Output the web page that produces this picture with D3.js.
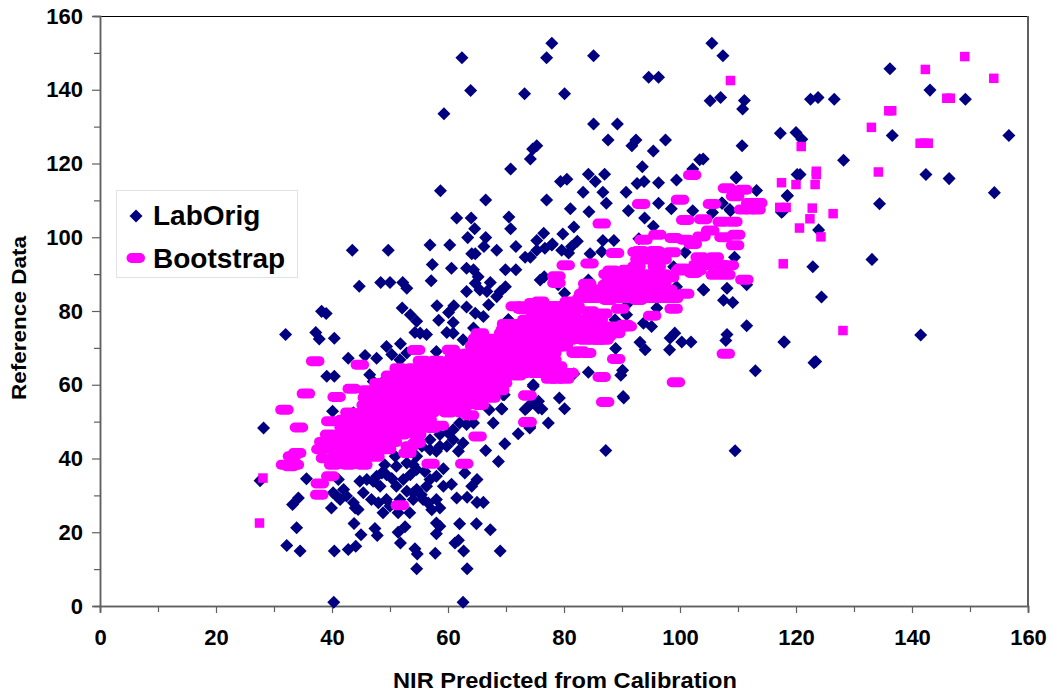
<!DOCTYPE html>
<html>
<head>
<meta charset="utf-8">
<script src="https://cdn.jsdelivr.net/npm/d3@7"></script>
<style>
body { margin: 0; background: #fff; }
text { font-family: "Liberation Sans", Arial, sans-serif; font-weight: bold; fill: #000; }
</style>
</head>
<body>
<div id="chart"></div>
<script>
const xTicks = [0, 20, 40, 60, 80, 100, 120, 140, 160]
const yTicks = [0, 20, 40, 60, 80, 100, 120, 140, 160]
const minorTicks = [10, 30, 50, 70, 90, 110, 130, 150]

// values: [predicted, reference]
const labOrig = [
[77.9,152.6],[62.4,148.7],[77,148.7],[85.1,149.2],[63.9,139.8],[73.2,138.9],[80.1,138.9],[94.6,143.4],[96.3,143.4],[59.3,133.5],
[85.1,130.7],[89.2,130.7],[87.6,126.4],[92.4,126.4],[91.7,124.8],[97.5,126.4],[95.4,123.4],[75.3,124.8],[74.6,123.9],[74.2,121.2],
[70.8,118.5],[93.5,119.1],[102.2,118.5],[103.4,121],[84.2,117.1],[87,117.1],[85.4,115.1],[80.5,115.7],[79.4,115.1],[92.6,114.6],
[93.8,115.1],[96.3,114.8],[99.4,115.5],[58.7,112.6],[66.5,110.1],[77,110.1],[83.3,112.2],[86.7,112.2],[90.7,112.2],[87.3,109.2],
[96.3,109.2],[81.1,107.7],[84.3,106.9],[91.1,107.2],[98.5,107.7],[102.2,107.2],[61.5,105.2],[64,105.2],[70.5,105.5],[93.9,105.2],
[70.8,102.3],[64.6,102.3],[81.7,102.8],[79.8,100.9],[95.4,103],[63.4,99.9],[66.5,99.9],[76.5,101.1],[75.3,99.1],[43.5,96.5],
[49.7,96.5],[56.9,97.9],[60.3,97.9],[66.2,97.5],[68.4,96.5],[71.7,97.5],[77.9,97.9],[76.7,97],[75.3,96.5],[82.3,98.9],
[81.3,97.5],[79.6,96.5],[80.8,95.7],[86.7,99.1],[88.6,99.1],[92.9,99.6],[64.1,95.5],[64.7,95.5],[84.5,95.5],[86.5,96.1],
[73.3,94.6],[74.2,94.6],[57.3,92.6],[60.6,91.6],[63.2,91.6],[64.4,91.2],[65.2,89.3],[69.9,91.2],[71.7,91.2],[57.1,88.2],
[75.9,88.4],[76.6,89.3],[84.2,88.4],[44.7,86.7],[48.4,87.7],[50,87.7],[52.2,87.7],[52.9,86.2],[67.3,87.7],[64.7,87.5],
[63.2,85.3],[65.5,85.7],[66.7,85.3],[69.9,86.6],[69,85.3],[68.4,83.9],[80.1,84.8],[99.4,86.6],[98.9,92],[78,98.2],
[38.2,79.9],[39,79.3],[32,73.6],[37.2,74.2],[37.8,72.4],[40.4,72.6],[42.8,67.2],[45.7,67.9],[47.7,67.2],[49.4,70.4],
[50.3,68.2],[51.8,71.1],[52.1,80.8],[53.5,79],[54.6,77.2],[55.2,74],[54.3,74.2],[56.3,73.6],[58.1,81.4],[58.4,77.5],
[61,81.4],[60.1,79.6],[60.9,76.9],[59.8,74.2],[60.9,74],[63.2,81.1],[64.7,79.4],[66.1,78.5],[67,81.7],[70.4,77.6],
[64.4,75.4],[62.6,72.2],[58,69],[52.9,68.6],[51.7,66.8],[46.5,62.7],[47.1,60.9],[39.1,62.3],[40.4,62.3],[49.4,61.8],
[40.1,52.8],[28.2,48.3],[43.7,52.4],[67.1,53.2],[69.2,53.5],[69.5,57.3],[67.8,49.6],[64.4,49.6],[72.1,46.7],[69.8,44],
[74.1,48.3],[73.6,53.7],[74.7,59.6],[75.6,53.7],[66.5,42.2],[68.7,39.2],[62,49.6],[60.9,47.8],[58.6,46.5],[56.9,45.1],
[60.9,45.1],[62.6,44.2],[61.8,42],[58,42],[55.5,43.3],[54.6,40.6],[50.9,40.6],[49.1,38.3],[48.6,36.1],[52.9,38.8],
[54.6,37],[53.5,35.6],[52.3,34.3],[50.3,34.6],[46,34.3],[47.1,33.8],[48.3,32.5],[51.1,32.5],[54.6,31.6],[56.9,34.3],
[59.2,37.2],[62.9,36.1],[65,34.3],[64.1,32.5],[59.2,32.5],[60.6,33],[61.5,29.3],[63.3,29.5],[65,28.1],[66.1,28.1],
[58.6,26.6],[57.2,26.1],[55.7,28.9],[54,30.7],[58,28.9],[53.4,25.3],[51.4,25.3],[48.8,25.3],[48,28],[49.4,28.9],
[44.5,26.2],[43.7,28],[45.4,30.7],[42,31.6],[40.2,30.7],[41.4,28.9],[39.9,26.6],[41.1,34.3],[35.6,34.5],[27.6,34],
[34.2,29.3],[33.2,27.5],[33.9,21.2],[43.8,22.4],[45,19.3],[47.4,21],[47.8,19.1],[52.6,21.5],[51.4,20],[58,22.5],
[58.6,21.6],[58,19.6],[62,22.3],[64.9,22.3],[67.3,20.7],[51.8,17.1],[61.8,17.8],[61.2,17.1],[32.2,16.4],[34.5,14.9],
[40.4,14.9],[42.8,15.3],[44.1,16.2],[54.3,15.5],[54.7,14.1],[57.8,14.3],[62.7,14.9],[69,14.9],[54.6,10.1],[63.3,10.1],
[40.3,1],[62.6,1],[79,87.1],[89.7,85.8],[100.9,95.9],[104,85.8],[108.1,86.2],[107.5,82.9],[109.1,82.3],[111.5,87.1],
[109.4,94.6],[108.6,107.5],[107.2,109.3],[109.7,116.3],[113.2,112.7],[118.5,111.3],[120.2,117],[117.7,107],[91.1,82.2],[96,80.8],
[90.8,79],[88.8,77.6],[74.7,79.4],[93.7,76.7],[95.1,75.8],[111.5,76],[99.1,74],[98.3,72.7],[100.3,71.6],[101.9,71.6],
[98.2,69.5],[93.1,71.5],[94,69.5],[108.1,73.6],[107.9,72],[117.9,71.6],[88.9,69.8],[113,63.8],[79.6,63.6],[81.7,63],
[84.2,63.4],[90.1,63.9],[89.8,62.6],[74.7,60],[69.7,57.3],[79.2,56.4],[90.3,56.4],[73.3,53.3],[74.4,55],[76.2,53.4],
[80.1,53.5],[69.3,53.4],[77.3,49.6],[74.1,48.7],[70.4,77.6],[75.6,55.5],[105.5,152.6],[107.4,149.2],[136.2,145.7],[143.1,139.9],
[107,137.9],[105.2,137],[111.1,137.1],[110.8,134.8],[122.5,137.4],[123.8,137.9],[126.6,137.4],[149.2,137.4],[117.3,128.2],[120,128.4],
[121,126.6],[136.6,127.6],[156.7,127.6],[110.7,124.8],[104,121.2],[128.2,120.9],[109.7,116.1],[120.7,117],[142.4,117],[146.4,115.9],
[154.2,112.1],[118.5,111.2],[134.4,109.1],[107.3,109.2],[108.7,107.2],[105.6,106.7],[117.5,106.8],[123.9,102],[133.1,94],[122.9,92],
[104.1,85.7],[124.4,83.8],[141.5,73.5],[118,71.6],[123.4,66.3],[123.1,66],[109.5,42.1],[87.2,42.2],[90.2,56.8],
[49.4,35.6],[51.1,37.9],[54,38.3],[56,36.5],[58,35.2],[56.3,32.5],[55.4,30.2],[52.9,31.1],[54,28.9],[56.6,27.9],
[51.7,28.9],[50,27.1],[46.8,28.9],[47.7,35.2],[44.8,33.8],[59.8,43.3],[58.6,43.3],[56.9,42.4],[60,47],[63.2,49.2],
[40.8,29.8],[42.5,29.8],[44,26.6]
]

// the bootstrap points inside the main cloud print as wide pills in the original
const bootstrapPills = [
[102.1,116.9],[108.1,113.3],[110.9,112.9],[109.5,111.1],[112.1,109.3],[113.5,109.3],[110.9,107.5],[113.2,107.5],[112.1,107.6],[100,110.2],
[93.3,109],[105.5,109],[86.5,103.7],[100.9,104.7],[104,104.9],[107.2,104.2],[109.2,104.2],[105.2,101.8],[103.7,100.2],[109.7,100.7],
[107.5,100],[109.5,97.8],[96.1,100.7],[98.9,99.8],[100.9,99.3],[102.2,98.2],[93.7,99.3],[88.8,95.7],[93.1,96.3],[95.7,96.3],
[98.6,95.9],[103.4,94.6],[106,94.6],[80.3,92.4],[84.4,92.9],[108.6,92.4],[94.5,94.6],[92.5,92.1],[96,92.1],[88.2,91],
[90.8,91.2],[100.3,91.5],[102.3,90.3],[107.2,90.1],[78.7,89.4],[78.7,87.6],[89.1,88.9],[93.7,89.4],[98.3,89.1],[111.1,88.5],
[84,87.4],[87.4,87.1],[94.3,86.7],[96,86.7],[83.3,84.7],[86.2,84.9],[89.1,85.1],[92,84.4],[95.4,84.2],[98.3,83.8],
[100.9,84.7],[92.8,83],[87.6,83],[74.7,82.2],[72.7,80.6],[75.9,79.2],[80.8,82.6],[78.4,81.3],[84.5,79.9],[89.7,80.6],
[98.9,80.6],[79.9,78.5],[86.8,79.3],[95.2,78.7],[90.5,76.3],[85.3,76.7],[81.6,76.3],[74.4,76.3],[76.4,75.8],[88.2,74.5],
[78.4,74],[82.8,74],[85.1,72.2],[87.4,73.1],[74.7,73.1],[76.4,72.2],[71.3,74],[69.5,74],[82.8,69.1],[107.9,68.4],
[89,67],[72.4,70.4],[74.7,69.5],[70.1,70.4],[77.6,65.5],[74.7,66.8],[71.8,66.8],[86.5,62.1],[99.3,60.7],[78.7,61.6],
[80.2,61.6],[77.6,61.6],[75.9,64.1],[73.6,64.1],[70.7,64.1],[73.7,57.1],[87.1,55.3],[73.7,49.9],[69.3,60.5],
[37.1,66.4],[44.8,65.4],[54.5,69.4],[35.5,57.6],[40.8,56.7],[43.4,58.9],[31.8,53.2],[39.7,50.1],[34.3,48.4],[34,41.5],
[33.1,40.6],[31.9,38.3],[33.6,38.3],[32.8,37.9],[39.7,35.2],[37.9,33.2],[37.8,30.2],[51.7,27.3],[57,38.6],[62.8,38.6],
[65.1,46],[63.8,51.7],[73.7,49.8],[73.7,57.1],[58.6,48.9],[57.2,48.3],[53,41.5],[38.8,43.5],[38.8,40.1],[40.2,38.3],
[42.8,38.3],[45.4,38.3],[41,40.5],[43,40.5],[45.5,40.5],[47.5,40.5],[38,42.5],[40.5,42.5],[43,42.5],[45.5,42.5],
[48,42.5],[49.5,42.5],[38.5,44.5],[41,44.5],[43.5,44.5],[46,44.5],[48.5,44.5],[50.5,44.5],[54.6,44.2],[53.4,43.3],
[39.5,46.5],[42,46.5],[44.5,46.5],[47,46.5],[49.5,46.5],[52,46.5],[54.7,46.5],[42,48.5],[44.5,48.5],[47,48.5],
[49.5,48.5],[52,48.5],[54.5,48.5],[42,50.5],[44.5,50.5],[47,50.5],[49.5,50.5],[52,50.5],[54.5,50.5],[56.5,50.5],
[43,52.5],[45.5,52.5],[47.5,52.5],[50,52.5],[52.5,52.5],[55,52.5],[57,52.5],[60,52.5],[62.5,52.5],[45.8,54.5],
[48,54.5],[50.5,54.5],[53,54.5],[55.5,54.5],[58,54.5],[60.5,54.5],[63,54.5],[65.5,54.5],[46,56.5],[48,56.5],
[50.5,56.5],[53,56.5],[55.5,56.5],[58,56.5],[60.5,56.5],[63,56.5],[65.5,56.5],[67.5,56.5],[46,58.5],[48.5,58.5],
[51,58.5],[53.5,58.5],[56,58.5],[58.5,58.5],[61,58.5],[63.5,58.5],[66,58.5],[68,58.5],[69,58.5],[48,60.5],
[50,60.5],[52.5,60.5],[55,60.5],[57.5,60.5],[60,60.5],[62.5,60.5],[65,60.5],[67.5,60.5],[69.5,60.5],[50,62.5],
[52.5,62.5],[55,62.5],[57.5,62.5],[60,62.5],[62.5,62.5],[65,62.5],[67.5,62.5],[70,62.5],[72,62.5],[51.5,64.5],
[54,64.5],[56.5,64.5],[59,64.5],[61.5,64.5],[64,64.5],[66.5,64.5],[69,64.5],[71.5,64.5],[74,64.5],[55.5,66.5],
[58,66.5],[60.5,66.5],[63,66.5],[65.5,66.5],[68,66.5],[70.5,66.5],[73,66.5],[75,66.5],[61,68.5],[63.5,68.5],
[66,68.5],[68,68.5],[70,68.5],[72.5,68.5],[75,68.5],[60.5,69.5],[64.5,70.5],[66.5,70.5],[69,70.5],[71.5,70.5],
[65,72.5],[67,72.5],[69,72.5],[71,72.5],[73,72.5],[65.5,74],[69.8,74.9],[70,76.5],[72,76.5],[74,76.5],
[73,80.5],[75.9,82.6],
[71.5,81.3],[73,81.3],[74.5,81.3],[77.5,81.3],[79,81.3],[80.5,81.3],[82,81.3],[75,79.5],[76,79.5],[78.5,79.5],
[80,79.5],[81.5,79.5],[73.5,77.6],[75,77.6],[76.5,77.6],[78.5,77.6],[80,77.6],[82.5,77.6],[84.5,77.6],[86,77.6],
[72.5,75.8],[74,75.8],[76,75.8],[78.5,75.8],[80,75.8],[82,75.8],[84,75.8],[86,75.8],[88,75.8],[90,75.8],
[91,75.8],[71,74],[73,74],[75,74],[77,74],[79,74],[81,74],[83,74],[85,74],[87,74],
[89,74],[69.5,72.2],[71,72.2],[73,72.2],[75,72.2],[77,72.2],[79,72.2],[81,72.2],[83.5,72.2],[86,72.2],
[87,72.2],[71,70.4],[73,70.4],[75,70.4],[77,70.4],[79,70.4],[80,70.4],[69,68.6],[71,68.6],[73,68.6],
[75,68.6],[77,68.6],[78,68.6],[82,68.6],[84,68.6],[69,66.8],[73,66.8],[75,66.8],[77,66.8],[78,66.8],
[69,65],[71,65],[73,65],[75,65],[77,65],[79,65],[69,63.2],[71,63.2],[73,63.2],[75,63.2],
[76,63.2],[78,63.2],[80,63.2],[81,63.2],[87.5,90],[89,90],[91,90],[93,90],[95,90],[97,90],
[88,88],[90,88],[92,88],[94,88],[96,88],[97,88],[84,85.8],[86,85.8],[88,85.8],[90,85.8],
[92,85.8],[94,85.8],[96,85.8],[98,85.8],[83,83.5],[85,83.5],[87,83.5],[89,83.5],[91,83.5],[93,83.5],
[95,83.5],[97,83.5],[99,83.5],[92.5,96],[94,96],[96,96],[93,94],[95,94],[97,94],[103,92.5],
[105,92.5],[107,92.5],[100,91],[102,91],[103,91],[106,89.8],[108,89.8]
]

// the stragglers print as small squares
const bootstrapSquares = [
[108.7,142.5],[149.1,149],[142.3,145.5],[154.1,143.1],[146,137.7],[146.6,137.7],[136,134.3],[136.5,134.3],[133,129.8],[141.4,125.5],
[142.1,125.5],[142.8,125.5],[120.9,124.6],[123.5,117.9],[123.5,117],[134.2,117.7],[117.5,114.8],[120,114.3],[123.3,114.3],[117.2,108.1],
[118.3,108.1],[122.8,107.9],[126.4,106.4],[122.4,105],[120.6,102.5],[124.3,100.1],[117.8,92.8],[128.1,74.7],[27.5,22.5],[28.1,34.7]
]

const margin = ({top: 16, right: 24, bottom: 88, left: 100})
const width = 928
const height = 590

const navy = "#000080"
const magenta = "#ff00ff"
const axisGrey = "#606060"

const svg = d3.select("#chart").append("svg")
    .attr("width", 1052)
    .attr("height", 694)
    .style("display", "block")

const g = svg.append("g")
    .attr("transform", `translate(${margin.left},${margin.top})`)

const x = d3.scaleLinear().domain([0, 160]).range([0, width])
const y = d3.scaleLinear().domain([0, 160]).range([height, 0])

// plot frame: thin black on top, grey on the right
g.append("line").attr("x1", -7).attr("x2", width).attr("y1", 0.5).attr("y2", 0.5)
    .attr("stroke", "#000").attr("stroke-width", 1)
g.append("line").attr("x1", width).attr("x2", width).attr("y1", 0).attr("y2", height)
    .attr("stroke", axisGrey).attr("stroke-width", 2)

const xAxis = d3.axisBottom(x).tickValues(xTicks).tickSize(7).tickPadding(16).tickFormat(d3.format("d"))
const xMinor = d3.axisBottom(x).tickValues(minorTicks).tickSize(6).tickFormat("")
const yAxis = d3.axisLeft(y).tickValues(yTicks).tickSize(8).tickPadding(9).tickFormat(d3.format("d"))
const yMinor = d3.axisLeft(y).tickValues(minorTicks).tickSize(6).tickFormat("")

g.append("g").attr("class", "x-axis").attr("transform", `translate(0,${height})`).call(xAxis)
g.append("g").attr("transform", `translate(0,${height})`).call(xMinor)
g.append("g").attr("class", "y-axis").call(yAxis)
g.append("g").call(yMinor)

g.selectAll(".domain").attr("stroke", axisGrey).attr("stroke-width", 1.5)
g.selectAll(".tick line").attr("stroke", axisGrey).attr("stroke-width", 1.2)
g.selectAll(".tick text").style("font-size", "22px").style("font-family", '"Liberation Sans", Arial, sans-serif').style("font-weight", "bold").attr("fill", "#000")

const diamond = d3.symbol().type(d3.symbolDiamond2).size(108)

g.append("g").selectAll("path")
    .data(labOrig)
    .join("path")
    .attr("d", diamond)
    .attr("transform", d => `translate(${x(d[0])},${y(d[1])})`)
    .attr("fill", navy)

g.append("g").selectAll("rect")
    .data(bootstrapPills)
    .join("rect")
    .attr("x", d => x(d[0]) - 9.25)
    .attr("y", d => y(d[1]) - 5)
    .attr("width", 18.5)
    .attr("height", 10)
    .attr("rx", 5)
    .attr("fill", magenta)

g.append("g").selectAll("rect")
    .data(bootstrapSquares)
    .join("rect")
    .attr("x", d => x(d[0]) - 4.75)
    .attr("y", d => y(d[1]) - 4.75)
    .attr("width", 9.5)
    .attr("height", 9.5)
    .attr("fill", magenta)

// axis titles, squeezed to the original's wide letterforms
svg.append("text")
    .attr("x", 565).attr("y", 688)
    .attr("text-anchor", "middle")
    .attr("textLength", 344)
    .attr("lengthAdjust", "spacingAndGlyphs")
    .style("font-size", "21.5px")
    .text("NIR Predicted from Calibration")

svg.append("text")
    .attr("transform", "translate(26,318) rotate(-90)")
    .attr("text-anchor", "middle")
    .attr("textLength", 164)
    .attr("lengthAdjust", "spacingAndGlyphs")
    .style("font-size", "21px")
    .text("Reference Data")

// legend
const legend = svg.append("g")

legend.append("rect")
    .attr("x", 116.5).attr("y", 190.5)
    .attr("width", 181).attr("height", 87)
    .attr("fill", "#fff")
    .attr("stroke", "#e2e2e2")

legend.append("path")
    .attr("d", diamond)
    .attr("transform", "translate(136,216)")
    .attr("fill", navy)

legend.append("rect")
    .attr("x", 126.5).attr("y", 253)
    .attr("width", 18.5).attr("height", 10)
    .attr("rx", 5)
    .attr("fill", magenta)

legend.append("text").attr("x", 153).attr("y", 225).style("font-size", "28px").text("LabOrig")
legend.append("text").attr("x", 153).attr("y", 268).style("font-size", "28px").text("Bootstrap")
</script>
</body>
</html>
